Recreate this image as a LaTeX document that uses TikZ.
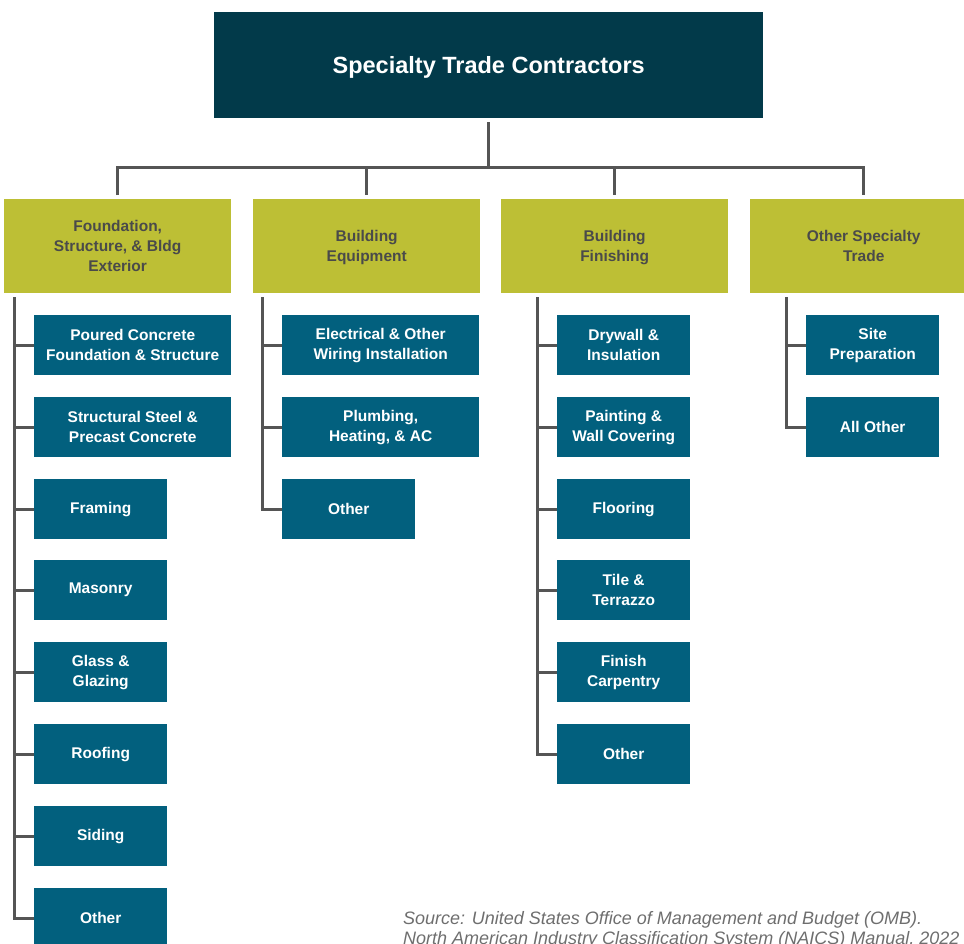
\documentclass[tikz,border=0pt]{standalone}
\usepackage{fontspec}
\setmainfont{Liberation Sans}
\definecolor{topcol}{HTML}{023A4A}
\definecolor{headcol}{HTML}{BDBF35}
\definecolor{childcol}{HTML}{02607E}
\definecolor{linecol}{HTML}{555555}
\definecolor{headtext}{HTML}{4A4A4A}
\definecolor{srctext}{HTML}{6E6E6E}
\begin{document}
\begin{tikzpicture}[x=1pt,y=-1pt,
  topbox/.style={fill=topcol,text=white,anchor=north west,inner sep=0pt,
    minimum width=549pt,minimum height=106pt,align=center,text depth=0pt,
    font=\bfseries\fontsize{23.5}{28}\selectfont},
  headbox/.style={fill=headcol,text=headtext,anchor=north west,inner sep=0pt,
    minimum width=227pt,minimum height=94pt,align=center,text depth=0pt,
    font=\bfseries\fontsize{15.5}{20}\selectfont},
  childbox/.style={fill=childcol,text=white,anchor=north west,inner sep=0pt,
    minimum height=60pt,align=center,
    font=\bfseries\fontsize{15.5}{20}\selectfont},
  wide/.style={minimum width=197pt},
  narrow/.style={minimum width=133pt},
  link/.style={draw=linecol,line width=3pt,line join=miter}]
\useasboundingbox (0,0) rectangle (964,943);
% top
\node[topbox] (t) at (214,12) {Specialty Trade Contractors};
% headers
\node[headbox] (h1) at (4,199) {Foundation,\\Structure, \& Bldg\\Exterior};
\node[headbox] (h2) at (253,199) {Building\\Equipment};
\node[headbox] (h3) at (501,199) {Building\\Finishing};
\node[headbox] (h4) at (750,199) {Other Specialty\\Trade};
% column 1
\node[childbox,wide] (a1) at (34,315) {Poured Concrete\\Foundation \& Structure};
\node[childbox,wide] (a2) at (34,397) {Structural Steel \&\\Precast Concrete};
\node[childbox,narrow] (a3) at (34,479) {Framing};
\node[childbox,narrow] (a4) at (34,560) {Masonry};
\node[childbox,narrow] (a5) at (34,642) {Glass \&\\Glazing};
\node[childbox,narrow] (a6) at (34,724) {Roofing};
\node[childbox,narrow] (a7) at (34,806) {Siding};
\node[childbox,narrow] (a8) at (34,888) {Other};
% column 2
\node[childbox,wide] (b1) at (282,315) {Electrical \& Other\\Wiring Installation};
\node[childbox,wide] (b2) at (282,397) {Plumbing,\\Heating, \& AC};
\node[childbox,narrow] (b3) at (282,479) {Other};
% column 3
\node[childbox,narrow] (c1) at (557,315) {Drywall \&\\Insulation};
\node[childbox,narrow] (c2) at (557,397) {Painting \&\\Wall Covering};
\node[childbox,narrow] (c3) at (557,479) {Flooring};
\node[childbox,narrow] (c4) at (557,560) {Tile \&\\Terrazzo};
\node[childbox,narrow] (c5) at (557,642) {Finish\\Carpentry};
\node[childbox,narrow] (c6) at (557,724) {Other};
% column 4
\node[childbox,narrow] (d1) at (806,315) {Site\\Preparation};
\node[childbox,narrow] (d2) at (806,397) {All Other};
% source
\node[anchor=base west,inner sep=0pt,align=left,text=srctext,
  font=\itshape\fontsize{18}{20}\selectfont] (src) at (403,944)
  {Source: United States Office of Management and Budget (OMB).\\North American Industry Classification System (NAICS) Manual, 2022};
% tree connectors
\coordinate (bus) at (t.south |- 0,167);
\draw[link,shorten <=4pt] (t.south) -- (bus);
\draw[link,shorten <=4pt,shorten >=4pt] (h1.north) -- (h1.north |- bus) -- (h4.north |- bus) -- (h4.north);
\draw[link,shorten >=4pt] (h2.north |- bus) -- (h2.north);
\draw[link,shorten >=4pt] (h3.north |- bus) -- (h3.north);
% column lines
\coordinate (v1) at ([xshift=-20pt,yshift=-4pt]a1.west |- h1.south);
\coordinate (v2) at ([xshift=-20pt,yshift=-4pt]b1.west |- h2.south);
\coordinate (v3) at ([xshift=-20pt,yshift=-4pt]c1.west |- h3.south);
\coordinate (v4) at ([xshift=-20pt,yshift=-4pt]d1.west |- h4.south);
\draw[link] (v1) |- (a8.west);
\foreach \n in {a1,a2,a3,a4,a5,a6,a7} \draw[link] (v1 |- \n.west) -- (\n.west);
\draw[link] (v2) |- (b3.west);
\foreach \n in {b1,b2} \draw[link] (v2 |- \n.west) -- (\n.west);
\draw[link] (v3) |- (c6.west);
\foreach \n in {c1,c2,c3,c4,c5} \draw[link] (v3 |- \n.west) -- (\n.west);
\draw[link] (v4) |- (d2.west);
\draw[link] (v4 |- d1.west) -- (d1.west);
\end{tikzpicture}
\end{document}
